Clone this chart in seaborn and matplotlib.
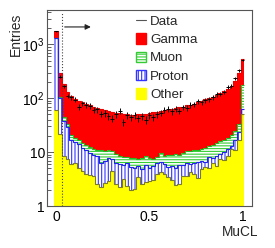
import numpy as np
import pandas as pd
import seaborn as sns
import matplotlib.pyplot as plt
from matplotlib.patches import Patch
from matplotlib.lines import Line2D
from matplotlib.ticker import FixedLocator, MultipleLocator, LogLocator, NullFormatter, FuncFormatter

# MuCL histogram: 51 bins of width 0.02 centred on 0, 0.02, ..., 1
bin_width = 0.02
edges = np.linspace(-0.01, 1.01, 52)
mucl = np.round(np.arange(51) * bin_width, 2)

# stacked MC components (entries per bin)
gamma = [415, 191, 137, 95, 90, 77, 71, 69, 65, 61, 58, 54, 51, 49, 46, 45, 45, 44, 44, 43,
         42, 42, 43, 44, 43, 45, 47, 48, 48, 52, 53, 55, 57, 59, 60, 63, 65, 69, 73, 78,
         83, 87, 92, 99, 108, 117, 131, 151, 185, 267, 355]
muon = [45, 6, 7, 4, 4, 2.5, 2.6, 2.5, 2.4, 2.9, 2.5, 2.5, 4.5, 3.8, 3.4, 2.8, 3.1, 2.6, 2.2, 1.8,
        2.7, 2.7, 1.9, 3.0, 2.9, 2.9, 2.0, 1.9, 2.9, 2.3, 3.5, 3.5, 4.3, 3.1, 4.0, 4.2, 4.6, 4.5, 4.4, 4.4,
        5.3, 5.0, 5.7, 5.9, 6.7, 7.0, 7.1, 7.8, 8.5, 9.0, 111]
proton = [1230, 78, 29.5, 21.5, 11, 9.3, 9.0, 7.6, 7.0, 5.9, 5.4, 5.8, 4.1, 4.1, 4.9, 3.1, 3.7, 3.7, 2.7, 3.8,
          3.2, 2.9, 2.2, 2.2, 2.9, 2.1, 2.6, 2.4, 2.3, 2.1, 1.9, 2.5, 2.6, 3.3, 2.2, 2.6, 1.8, 2.4, 3.3, 2.1,
          1.5, 3.0, 1.5, 3.0, 1.9, 2.8, 2.8, 1.7, 5.5, 7.4, 14]
other = [60, 22, 8.5, 7.5, 6.0, 6.2, 5.0, 4.4, 4.0, 3.7, 3.6, 2.6, 2.3, 2.7, 2.9, 4.5, 2.6, 2.3, 3.2, 2.4,
         2.0, 2.1, 3.4, 2.6, 2.8, 2.9, 3.0, 4.0, 4.3, 4.0, 3.4, 3.0, 2.5, 2.6, 3.6, 3.6, 4.2, 4.0, 3.3, 4.8,
         5.2, 5.0, 6.4, 5.6, 7.4, 7.2, 8.6, 11.5, 11.0, 16.6, 50]
data = [1750, 253, 166, 111, 105, 94, 69, 81, 76, 72, 61, 62, 52, 53, 47, 42, 50, 58, 36, 48,
        45, 49, 43, 47, 40, 49, 44, 50, 54, 60, 63, 57, 64, 59, 68, 66, 75, 78, 88, 84,
        93, 96, 104, 118, 121, 130, 160, 168, 235, 330, 520]

samples = ['Gamma', 'Muon', 'Proton', 'Other']
cut_value = 0.03
arrow_end = 0.2
arrow_level = 2100

df = pd.DataFrame({'MuCL': mucl, 'Gamma': gamma, 'Muon': muon, 'Proton': proton, 'Other': other})
long = df.melt(id_vars='MuCL', var_name='sample', value_name='entries')

sns.set_style('ticks')
plt.rcParams['font.family'] = ['Liberation Sans', 'DejaVu Sans']
plt.rcParams['mathtext.fontset'] = 'custom'
plt.rcParams['mathtext.rm'] = 'Liberation Sans'
plt.rcParams['hatch.linewidth'] = 0.8

fig = plt.figure(figsize=(2.75, 2.48), dpi=100)
ax = fig.add_axes([0.171, 0.169, 0.745, 0.79])

#temporary colours so the bars can be restyled afterwards
tmp_pal = {'Gamma': '#ff0000', 'Muon': '#00ff00', 'Proton': '#0000ff', 'Other': '#ffff00'}
sns.histplot(data=long, x='MuCL', weights='entries', hue='sample', hue_order=samples,
             multiple='stack', bins=edges.tolist(), element='bars', palette=tmp_pal,
             alpha=1, linewidth=0, legend=False, ax=ax)

for p in ax.patches:
    fc = tuple(np.round(p.get_facecolor()[:3], 2))
    if fc == (0.0, 1.0, 0.0):
        p.set_facecolor('white')
        p.set_edgecolor('#33cc33')
        p.set_hatch('------')
    elif fc == (0.0, 0.0, 1.0):
        p.set_facecolor('white')
        p.set_edgecolor('#3333ff')
        p.set_hatch('|||||')
    p.set_linewidth(0)

# outlines of the stacked histograms
top_other = np.array(other)
top_proton = top_other + np.array(proton)
top_muon = top_proton + np.array(muon)
top_gamma = top_muon + np.array(gamma)
ax.stairs(top_gamma, edges, baseline=None, color='#ee0000', lw=0.8)
ax.stairs(top_muon, edges, baseline=None, color='#22bb22', lw=0.8)
ax.stairs(top_proton, edges, baseline=None, color='#2222ee', lw=0.8)
ax.stairs(top_other, edges, baseline=None, color='#7a7a30', lw=0.8)

# data points
ax.errorbar(mucl, data, yerr=np.sqrt(data), xerr=bin_width / 2, fmt='none',
            ecolor='black', elinewidth=0.7, capsize=0)

# cut line and arrow
ax.plot([cut_value, cut_value], [1, 3800], ls=':', color='#444444', lw=0.8)
ax.annotate('', xy=(arrow_end, arrow_level), xytext=(cut_value, arrow_level),
            arrowprops=dict(arrowstyle='-|>', color='#222222', lw=0.8, mutation_scale=8))

ax.set_xlim(-0.05, 1.05)
ax.set_yscale('log')
ax.set_ylim(1, 4300)

ax.xaxis.set_major_locator(FixedLocator([0, 0.5, 1]))
ax.xaxis.set_major_formatter(FuncFormatter(lambda v, p: f'{v:g}'))
ax.xaxis.set_minor_locator(MultipleLocator(0.1))
ylabels = {1: '1', 10: '10', 100: '$10^{2}$', 1000: '$10^{3}$'}
ax.yaxis.set_major_locator(FixedLocator([1, 10, 100, 1000]))
ax.yaxis.set_major_formatter(FuncFormatter(lambda v, p: ylabels.get(int(round(v)), '')))
ax.yaxis.set_minor_locator(LogLocator(base=10, subs=range(2, 10)))
ax.yaxis.set_minor_formatter(NullFormatter())

ax.tick_params(which='both', direction='in', top=False, right=False, colors='#444444',
               labelcolor='black', labelsize=10, width=0.6)
ax.tick_params(which='major', length=5.5)
ax.tick_params(which='minor', length=2.8)
ax.tick_params(axis='x', pad=3)
ax.tick_params(axis='y', pad=1.5)
for s in ax.spines.values():
    s.set_color('#555555')
    s.set_linewidth(0.8)

ax.set_xlabel('MuCL', loc='right', fontsize=9.8)
ax.xaxis.set_label_coords(1.03, -0.098)
ax.set_ylabel('Entries', loc='top', fontsize=10)
ax.yaxis.set_label_coords(-0.118, 0.985)

handles = [Line2D([0], [0], color='#555555', lw=0.8),
           Patch(facecolor='#ff0000', edgecolor='#ff0000'),
           Patch(facecolor='white', edgecolor='#33cc33', hatch='------'),
           Patch(facecolor='white', edgecolor='#3333ff', hatch='|||||'),
           Patch(facecolor='#ffff00', edgecolor='#ffff00')]
ax.legend(handles, ['Data'] + samples, loc='upper left', bbox_to_anchor=(0.435, 0.975),
          frameon=False, fontsize=9.6, handlelength=0.75, handleheight=0.8,
          handletextpad=0.3, labelspacing=0.42, borderpad=0, borderaxespad=0)

fig.savefig('out.png', dpi=100)
